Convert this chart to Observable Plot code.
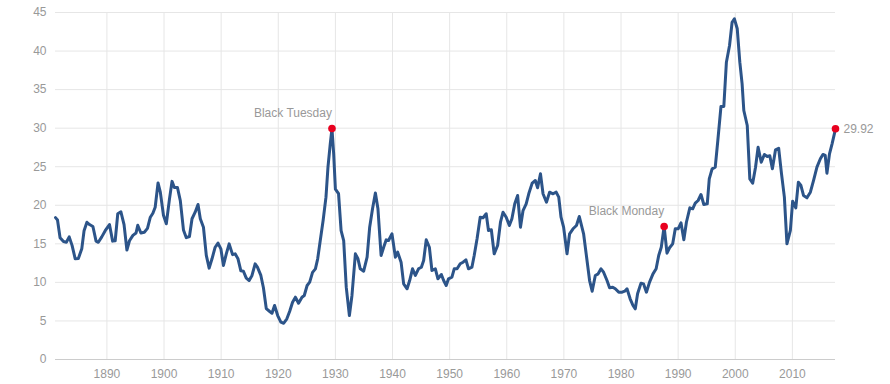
<!DOCTYPE html>
<html>
<head>
<meta charset="utf-8">
<script src="https://cdn.jsdelivr.net/npm/d3@7"></script>
<script src="https://cdn.jsdelivr.net/npm/@observablehq/plot@0.6"></script>
<style>
  html, body { margin: 0; padding: 0; background: #ffffff; }
  #chart { width: 890px; height: 384px; }
</style>
</head>
<body>
<div id="chart"></div>
<script>
const years = [
  1881.0, 1881.35, 1881.8, 1882.4, 1882.9, 1883.4, 1883.9, 1884.45, 1885.0, 1885.6,
  1886.0, 1886.5, 1886.95, 1887.55, 1888.1, 1888.5, 1889.1, 1889.7, 1890.45, 1891.0,
  1891.45, 1891.9, 1892.45, 1893.0, 1893.5, 1893.95, 1894.55, 1895.1, 1895.4, 1895.95,
  1896.55, 1897.1, 1897.6, 1898.05, 1898.45, 1898.95, 1899.35, 1899.9, 1900.4, 1900.95,
  1901.4, 1901.8, 1902.35, 1902.85, 1903.4, 1903.9, 1904.45, 1904.9, 1905.45, 1905.95,
  1906.35, 1906.9, 1907.4, 1907.9, 1908.4, 1908.95, 1909.45, 1909.95, 1910.4, 1910.9,
  1911.4, 1912.0, 1912.45, 1912.95, 1913.45, 1913.9, 1914.4, 1914.9, 1915.4, 1915.95,
  1916.35, 1916.95, 1917.4, 1917.9, 1918.45, 1918.9, 1919.35, 1919.9, 1920.45, 1920.95,
  1921.5, 1922.0, 1922.5, 1923.0, 1923.55, 1924.15, 1924.55, 1925.05, 1925.5, 1926.0,
  1926.5, 1926.9, 1927.35, 1927.85, 1928.35, 1928.7, 1929.1, 1929.4, 1929.7, 1930.0,
  1930.55, 1931.0, 1931.45, 1931.9, 1932.45, 1932.9, 1933.5, 1933.95, 1934.35, 1934.95,
  1935.55, 1936.0, 1936.5, 1937.0, 1937.45, 1938.0, 1938.45, 1938.9, 1939.3, 1939.9,
  1940.5, 1940.9, 1941.5, 1941.95, 1942.55, 1943.0, 1943.5, 1944.0, 1944.55, 1945.05,
  1945.45, 1945.9, 1946.45, 1946.9, 1947.5, 1947.95, 1948.55, 1948.95, 1949.4, 1949.8,
  1950.4, 1950.8, 1951.3, 1951.85, 1952.35, 1952.85, 1953.3, 1953.9, 1954.3, 1954.8,
  1955.35, 1955.85, 1956.4, 1956.8, 1957.3, 1957.8, 1958.4, 1958.9, 1959.35, 1959.9,
  1960.45, 1960.9, 1961.4, 1961.9, 1962.4, 1962.85, 1963.4, 1963.85, 1964.45, 1965.0,
  1965.4, 1965.9, 1966.35, 1966.95, 1967.5, 1968.1, 1968.65, 1969.1, 1969.5, 1969.95,
  1970.55, 1971.0, 1971.6, 1972.2, 1972.7, 1973.45, 1974.05, 1974.5, 1974.95, 1975.5,
  1976.0, 1976.5, 1976.95, 1977.55, 1978.0, 1978.55, 1979.0, 1979.6, 1980.2, 1980.65,
  1981.05, 1981.6, 1982.1, 1982.5, 1982.9, 1983.5, 1983.95, 1984.45, 1985.0, 1985.6,
  1986.15, 1986.6, 1987.05, 1987.55, 1988.05, 1988.5, 1989.05, 1989.5, 1990.0, 1990.5,
  1991.0, 1991.45, 1992.05, 1992.55, 1993.0, 1993.5, 1994.0, 1994.5, 1995.1, 1995.45,
  1995.95, 1996.5, 1996.95, 1997.5, 1998.0, 1998.45, 1999.0, 1999.45, 1999.85, 2000.35,
  2000.8, 2001.2, 2001.5, 2002.1, 2002.55, 2003.05, 2003.55, 2004.0, 2004.55, 2005.1,
  2005.6, 2006.05, 2006.5, 2007.05, 2007.6, 2008.1, 2008.6, 2009.05, 2009.65, 2010.05,
  2010.6, 2011.05, 2011.5, 2011.95, 2012.55, 2013.15, 2013.7, 2014.3, 2014.9, 2015.35,
  2015.75, 2016.05, 2016.5, 2016.95, 2017.35, 2017.55
];
const cape = [
  18.4, 18.1, 15.8, 15.3, 15.2, 15.9, 14.8, 13.06, 13.1, 14.35,
  16.7, 17.8, 17.5, 17.25, 15.35, 15.2, 15.9, 16.7, 17.5, 15.35,
  15.4, 18.9, 19.15, 17.5, 14.2, 15.4, 16.1, 16.4, 17.4, 16.4,
  16.5, 17.0, 18.45, 18.97, 19.75, 22.9, 21.7, 18.7, 17.6, 20.8,
  23.1, 22.3, 22.3, 20.6, 16.8, 15.8, 15.95, 18.25, 19.1, 20.1,
  18.25, 17.15, 13.5, 11.85, 13.06, 14.56, 15.1, 14.35, 12.2, 13.7,
  15.0, 13.6, 13.7, 13.06, 11.5, 11.45, 10.55, 10.25, 10.9, 12.4,
  11.97, 10.9, 9.3, 6.6, 6.26, 6.0, 7.0, 5.7, 4.84, 4.7,
  5.28, 6.26, 7.43, 8.08, 7.3, 8.08, 8.3, 9.6, 10.03, 11.3,
  11.76, 13.06, 15.43, 18.03, 21.05, 24.94, 27.97, 29.95, 26.67, 22.1,
  21.5, 16.7, 15.43, 9.38, 5.7, 8.3, 13.7, 13.06, 11.76, 11.45,
  13.27, 17.16, 19.54, 21.6, 19.54, 13.49, 14.56, 15.52, 15.43, 16.3,
  13.27, 13.92, 12.62, 9.8, 9.17, 10.24, 11.76, 10.9, 11.76, 11.97,
  12.84, 15.52, 14.56, 11.54, 11.76, 10.47, 11.02, 10.24, 9.6, 10.47,
  10.67, 11.76, 11.76, 12.41, 12.62, 12.93, 11.76, 11.97, 13.49, 15.65,
  18.45, 18.38, 18.9, 16.73, 16.82, 13.7, 14.78, 17.8, 19.1, 18.45,
  17.38, 18.25, 20.19, 21.27, 17.16, 19.32, 20.19, 21.49, 22.87, 23.21,
  22.27, 24.08, 21.49, 20.4, 21.7, 21.49, 21.7, 21.05, 18.45, 17.16,
  13.7, 16.3, 16.95, 17.38, 18.54, 16.3, 12.84, 10.24, 8.86, 10.9,
  11.11, 11.76, 11.32, 10.24, 9.3, 9.38, 9.17, 8.73, 8.73, 8.86,
  9.17, 7.87, 7.0, 6.57, 8.52, 9.9, 9.8, 8.73, 10.03, 11.11,
  11.76, 13.49, 14.56, 17.25, 13.79, 14.49, 15.0, 16.95, 16.95, 17.73,
  15.52, 17.8, 19.67, 19.54, 20.27, 20.62, 21.4, 20.1, 20.19, 23.43,
  24.73, 24.94, 28.4, 32.81, 32.81, 38.56, 40.72, 43.74, 44.18, 42.89,
  38.56, 35.75, 32.29, 30.35, 23.43, 22.87, 24.94, 27.53, 25.59, 26.59,
  26.33, 26.42, 24.73, 27.19, 27.4, 24.08, 21.05, 15.0, 16.73, 20.53,
  19.67, 22.99, 22.56, 21.27, 20.97, 21.7, 23.21, 24.94, 26.03, 26.59,
  26.46, 24.16, 26.67, 27.97, 29.27, 29.92
];
const eventNames = ["Black Tuesday", "Black Monday"];
const eventYears = [1929.4, 1987.55];
const eventValues = [29.95, 17.25];
const latestLabel = "29.92";
const xTicks = [1890, 1900, 1910, 1920, 1930, 1940, 1950, 1960, 1970, 1980, 1990, 2000, 2010];
const yTicks = [0, 5, 10, 15, 20, 25, 30, 35, 40, 45];

const data = years.map((y, i) => ({year: y, value: cape[i]}));
const events = eventNames.map((n, i) => ({name: n, year: eventYears[i], value: eventValues[i]}));
const latest = [{year: years[years.length - 1], value: cape[cape.length - 1], label: latestLabel}];

const chart = Plot.plot({
  width: 890,
  height: 384,
  marginLeft: 55,
  marginRight: 55,
  marginTop: 12,
  marginBottom: 25,
  style: {fontFamily: "'Liberation Sans', Arial, sans-serif", fontSize: "12px", color: "#999999", background: "#ffffff", overflow: "visible"},
  x: {domain: [years[0], years[years.length - 1]], ticks: xTicks, tickFormat: d => String(d), tickSize: 0, tickPadding: 10, label: null},
  y: {domain: [0, 45], ticks: yTicks, tickSize: 0, tickPadding: 9, label: null},
  marks: [
    Plot.ruleY(yTicks.filter(v => v > 0), {stroke: "#e6e6e6", strokeWidth: 1}),
    Plot.ruleX(xTicks, {stroke: "#e6e6e6", strokeWidth: 1}),
    Plot.ruleY([0], {stroke: "#cccccc", strokeWidth: 1}),
    Plot.line(data, {x: "year", y: "value", stroke: "#2c5489", strokeWidth: 3, strokeLinejoin: "round", strokeLinecap: "round"}),
    Plot.dot(events, {x: "year", y: "value", r: 3.8, fill: "#e8001f", stroke: "none"}),
    Plot.dot(latest, {x: "year", y: "value", r: 3.8, fill: "#e8001f", stroke: "none"}),
    Plot.text(events, {x: "year", y: "value", text: "name", textAnchor: "end", dy: -15, fill: "#999999", fontSize: 12}),
    Plot.text(latest, {x: "year", y: "value", text: "label", textAnchor: "start", dx: 8, fill: "#999999", fontSize: 12})
  ]
});
document.getElementById("chart").appendChild(chart);
</script>
</body>
</html>
